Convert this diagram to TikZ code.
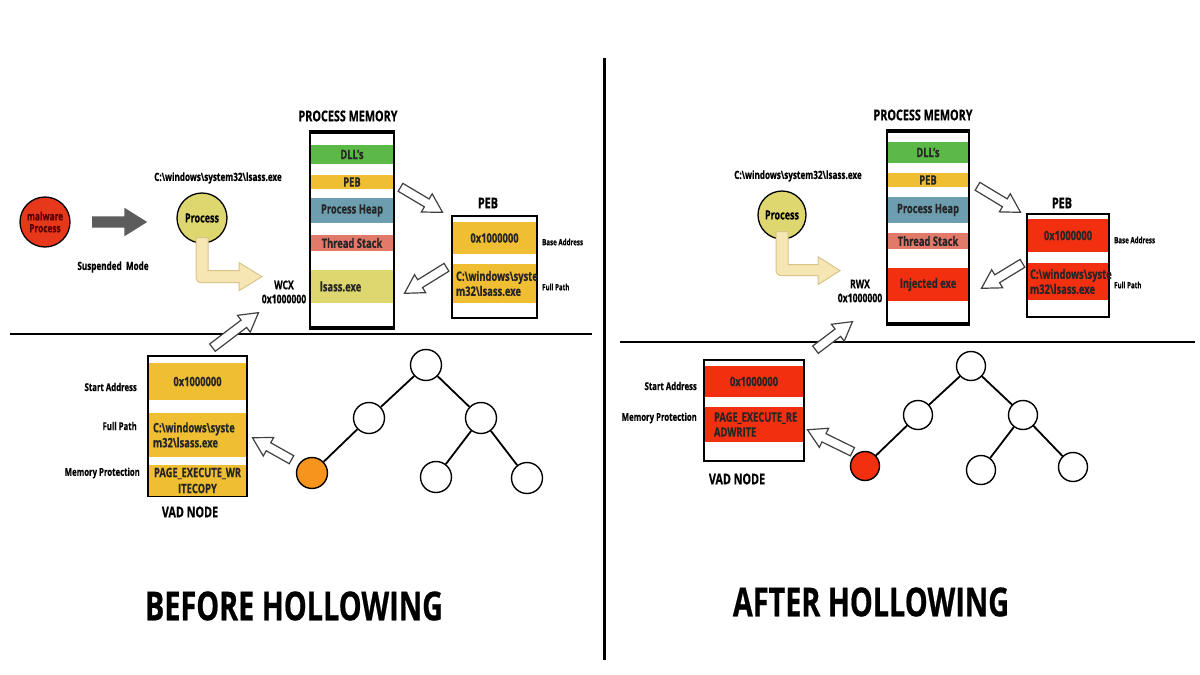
\documentclass[tikz,border=0pt]{standalone}
\usepackage{fontspec}
\setmainfont[FakeStretch=0.72, BoldFeatures={FakeBold=0.5}]{Open Sans}
\usetikzlibrary{shapes.arrows,calc}
\definecolor{malred}{HTML}{E8381B}
\definecolor{khaki}{HTML}{DED66F}
\definecolor{dllgreen}{HTML}{5DB947}
\definecolor{pebyellow}{HTML}{F0BE32}
\definecolor{heapblue}{HTML}{6C9EAF}
\definecolor{stackred}{HTML}{E27A6A}
\definecolor{injred}{HTML}{F2300F}
\definecolor{leaforange}{HTML}{F7941D}
\definecolor{cream}{HTML}{F6E6B3}
\definecolor{creamedge}{HTML}{D9C48A}
\definecolor{arrgray}{HTML}{5C5C5C}

% arrow shape laid from one named point to another
\newcommand{\blockarrow}[3]{%
  \path let \p1=(#2), \p2=(#3),
    \n1={atan2(\y2-\y1,\x2-\x1)}, \n2={veclen(\x2-\x1,\y2-\y1)} in
    node[#1, minimum height=\n2, rotate=\n1, anchor=tail] at (\p1) {};}

\begin{document}
\begin{tikzpicture}[x=1pt, y=-1pt,
  hd/.style={font=\fontsize{15}{16}\selectfont\bfseries, inner sep=0},
  title/.style={font=\fontsize{40}{40}\selectfont\bfseries, inner sep=0},
  lbl/.style={font=\fontsize{11.3}{12}\selectfont\bfseries, inner sep=0, align=center},
  side/.style={font=\fontsize{10.8}{11}\selectfont\bfseries, inner sep=0},
  tiny/.style={font=\fontsize{8.6}{9}\selectfont\bfseries, inner sep=0, anchor=west},
  frame/.style={draw=black, line width=1.6, fill=white, inner sep=0},
  heavy/.style={line width=3.5},
  blk/.style={inner sep=0, minimum width=82,
              font=\fontsize{13}{15}\selectfont\bfseries, text=black!85},
  proc/.style={circle, draw, line width=1.3, minimum size=50, inner sep=0,
               font=\fontsize{12.5}{12}\selectfont\bfseries, align=center},
  tnode/.style={circle, draw, line width=1.4, fill=white, inner sep=0},
  edge/.style={line width=1.8},
  bigarr/.style={single arrow, fill=arrgray, inner xsep=0, inner ysep=5.5,
                 single arrow head extend=8.5, single arrow tip angle=64},
  hollow/.style={single arrow, draw=black!75, fill=white, line width=1.2,
                 inner xsep=0, inner ysep=4, single arrow head extend=6,
                 single arrow tip angle=60},
  lshape/.style={fill=cream, draw=creamedge, line width=1},
  divider/.style={line width=3},
  split/.style={line width=2.5},
]
\useasboundingbox (0,0) rectangle (1200,675);
\fill[white] (0,0) rectangle (1200,675);

% ---- dividers ----
\draw[divider] (604,58) -- (604,660);
\draw[split] (10,334) -- (592,334);
\draw[split] (620,342) -- (1195,342);

% ================= BEFORE =================
\node[proc, fill=malred, text=black!65!red,
      font=\fontsize{11.5}{12}\selectfont\bfseries] (mal) at (45,222) {malware\\Process};
\coordinate (g1s) at (92,222);
\coordinate (g1e) at (147,222);
\blockarrow{bigarr}{g1s}{g1e}
\node[lbl] (susp) at (113,267) {Suspended\ \ Mode};

\node[lbl] (path0) at (218,178) {C:\textbackslash windows\textbackslash system32\textbackslash lsass.exe};
\node[proc, fill=khaki] (proc1) at (202,218) {Process};
\draw[lshape] ([xshift=-6, yshift=6]proc1.south) -- ++(0,39)
  .. controls +(0,4) and +(-4,0) .. ++(6,6) -- ++(37,0) -- ++(0,8)
  -- ++(23,-14) -- ++(-23,-14) -- ++(0,8) -- ++(-31,0) -- ++(0,-33) -- cycle;
\node[lbl, font=\fontsize{12}{14}\selectfont\bfseries] (wcx) at (284,292) {WCX\\0x1000000};

% process memory column
\node[hd] (memt1) at (348,116) {PROCESS MEMORY};
\node[frame, minimum width=84, minimum height=194] (mem1) at (352,230) {};
\draw[heavy] (mem1.north west) -- (mem1.north east);
\draw[heavy] (mem1.south west) -- (mem1.south east);
\node[blk, fill=dllgreen, minimum height=19] (dll1) at (352,154.5) {DLL's};
\node[blk, fill=pebyellow, minimum height=14] (peb1) at (352,182) {PEB};
\node[blk, fill=heapblue, minimum height=25] (heap1) at (352,210.5) {Process Heap};
\node[blk, fill=stackred, minimum height=16] (stack1) at (352,243) {Thread Stack};
\node[blk, fill=khaki, minimum height=33, text width=64, inner xsep=9,
      align=left] (exe1) at (352,286.5) {lsass.exe};

% PEB box
\node[hd] (pebt1) at (488,203) {PEB};
\node[frame, minimum width=85, minimum height=102] (pebbox1) at (494.5,267) {};
\node[blk, fill=pebyellow, minimum width=83, minimum height=32] (base1) at (494.5,238) {0x1000000};
\node[blk, fill=pebyellow, minimum width=83, minimum height=39, text width=77,
      inner xsep=3, align=left] (full1) at (494.5,283.5)
  {C:\textbackslash windows\textbackslash syste\\m32\textbackslash lsass.exe};
\node[tiny] (basel1) at (542,242) {Base Address};
\node[tiny] (fulll1) at (542,287) {Full Path};

\coordinate (a1s) at (400,187);
\coordinate (a1e) at (442,212);
\coordinate (a2s) at (447,267);
\coordinate (a2e) at (405,293);
\blockarrow{hollow}{a1s}{a1e}
\blockarrow{hollow}{a2s}{a2e}

% VAD node
\node[frame, minimum width=99, minimum height=140] (vad1) at (197.5,426) {};
\node[blk, fill=pebyellow, minimum width=97, minimum height=37] (start1) at (197.5,381.5) {0x1000000};
\node[blk, fill=pebyellow, minimum width=97, minimum height=44, text width=89,
      inner xsep=4, align=left] (vpath1) at (197.5,435)
  {C:\textbackslash windows\textbackslash syste\\m32\textbackslash lsass.exe};
\node[blk, fill=pebyellow, minimum width=97, minimum height=31, align=center,
      font=\fontsize{13}{16}\selectfont\bfseries] (prot1) at (197.5,480.5)
  {PAGE\_EXECUTE\_WR\\ITECOPY};
\node[side, anchor=east] (startl1) at (137,387) {Start Address};
\node[side, anchor=east] (pathl1) at (137,426) {Full Path};
\node[side, anchor=east] (protl1) at (140,473) {Memory Protection};
\node[hd] (vadt1) at (190,512) {VAD NODE};

\coordinate (a3s) at (212,348);
\coordinate (a3e) at (258,313);
\blockarrow{hollow}{a3s}{a3e}

% tree
\node[tnode, minimum size=31] (r1) at (426,365) {};
\node[tnode, minimum size=31] (l1) at (369,418) {};
\node[tnode, minimum size=31] (rt1) at (481,418) {};
\node[tnode, minimum size=31, fill=leaforange] (ll1) at (312,473) {};
\node[tnode, minimum size=31] (rl1) at (436,477) {};
\node[tnode, minimum size=31] (rr1) at (527,478) {};
\draw[edge] (r1) -- (l1);
\draw[edge] (r1) -- (rt1);
\draw[edge] (l1) -- (ll1);
\draw[edge] (rt1) -- (rl1);
\draw[edge] (rt1) -- (rr1);

\coordinate (a4s) at (292,460);
\coordinate (a4e) at (253,438);
\blockarrow{hollow}{a4s}{a4e}

\node[title] (before) at (294,606) {BEFORE HOLLOWING};

% ================= AFTER =================
\node[lbl] (path2) at (798,176) {C:\textbackslash windows\textbackslash system32\textbackslash lsass.exe};
\node[proc, fill=khaki, minimum size=48] (proc2) at (782,215) {Process};
\draw[lshape] ([xshift=-6, yshift=8]proc2.south) -- ++(0,38)
  .. controls +(0,4) and +(-4,0) .. ++(6,6) -- ++(36,0) -- ++(0,9)
  -- ++(22,-14) -- ++(-22,-14) -- ++(0,8) -- ++(-30,0) -- ++(0,-33) -- cycle;
\node[lbl, font=\fontsize{12}{14}\selectfont\bfseries] (rwx) at (860,291) {RWX\\0x1000000};

% process memory column
\node[hd] (memt2) at (923,115) {PROCESS MEMORY};
\node[frame, minimum width=82, minimum height=191] (mem2) at (928,227.5) {};
\draw[heavy] (mem2.north west) -- (mem2.north east);
\draw[heavy] (mem2.south west) -- (mem2.south east);
\node[blk, minimum width=80, fill=dllgreen, minimum height=21] (dll2) at (928,152.5) {DLL's};
\node[blk, minimum width=80, fill=pebyellow, minimum height=14] (peb2) at (928,180) {PEB};
\node[blk, minimum width=80, fill=heapblue, minimum height=26] (heap2) at (928,210) {Process Heap};
\node[blk, minimum width=80, fill=stackred, minimum height=16] (stack2) at (928,241) {Thread Stack};
\node[blk, minimum width=80, fill=injred, minimum height=33] (inj2) at (928,284.5) {Injected exe};

% PEB box
\node[hd] (pebt2) at (1062,203) {PEB};
\node[frame, minimum width=82, minimum height=103] (pebbox2) at (1068,265.5) {};
\node[blk, minimum width=80, fill=injred, minimum height=33] (base2) at (1068,235.5) {0x1000000};
\node[blk, minimum width=80, fill=injred, minimum height=37, text width=76,
      inner xsep=2, align=left] (full2) at (1068,281.5)
  {C:\textbackslash windows\textbackslash syste\\m32\textbackslash lsass.exe};
\node[tiny] (basel2) at (1114,240) {Base Address};
\node[tiny] (fulll2) at (1114,285) {Full Path};

\coordinate (b1s) at (977,186);
\coordinate (b1e) at (1020,212);
\coordinate (b2s) at (1023,263);
\coordinate (b2e) at (982,288);
\blockarrow{hollow}{b1s}{b1e}
\blockarrow{hollow}{b2s}{b2e}

% VAD node
\node[frame, minimum width=100, minimum height=101] (vad2) at (754,410.5) {};
\node[blk, fill=injred, minimum width=98, minimum height=31] (start2) at (754,381.5) {0x1000000};
\node[blk, fill=injred, minimum width=98, minimum height=35, text width=80,
      inner xsep=9, align=left] (prot2) at (754,424.5)
  {PAGE\_EXECUTE\_RE\\ADWRITE};
\node[side, anchor=east] (startl2) at (697,386) {Start Address};
\node[side, anchor=east] (protl2) at (697,418) {Memory Protection};
\node[hd] (vadt2) at (737,479) {VAD NODE};

\coordinate (b3s) at (815,350);
\coordinate (b3e) at (852,322);
\blockarrow{hollow}{b3s}{b3e}

% tree
\node[tnode, minimum size=29] (r2) at (971,366) {};
\node[tnode, minimum size=29] (l2) at (918,415) {};
\node[tnode, minimum size=29] (rt2) at (1023,415) {};
\node[tnode, minimum size=29, fill=injred] (ll2) at (865,466) {};
\node[tnode, minimum size=29] (rl2) at (981,470) {};
\node[tnode, minimum size=29] (rr2) at (1073,467) {};
\draw[edge] (r2) -- (l2);
\draw[edge] (r2) -- (rt2);
\draw[edge] (l2) -- (ll2);
\draw[edge] (rt2) -- (rl2);
\draw[edge] (rt2) -- (rr2);

\coordinate (b4s) at (853,452);
\coordinate (b4e) at (808,430);
\blockarrow{hollow}{b4s}{b4e}

\node[title] (after) at (871,602) {AFTER HOLLOWING};
\end{tikzpicture}
\end{document}
